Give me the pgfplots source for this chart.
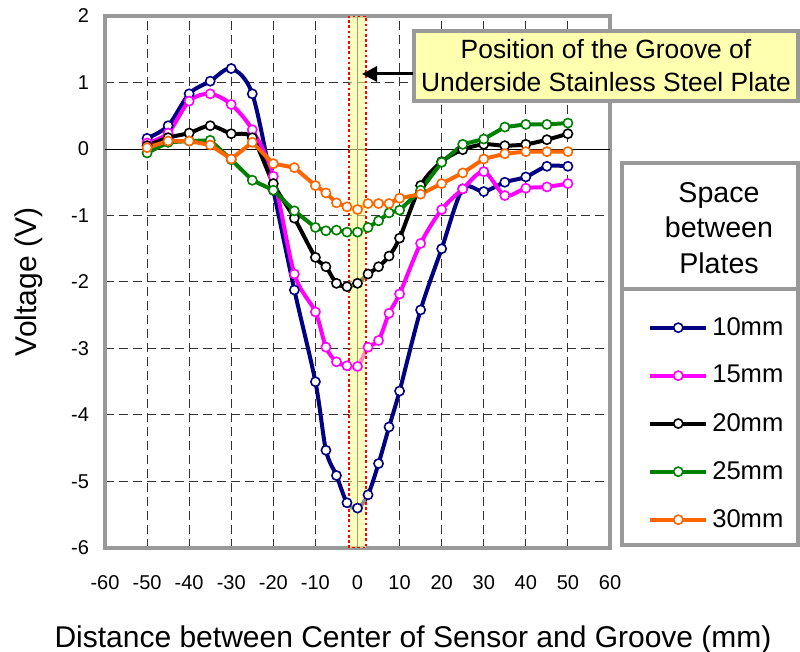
\documentclass[border=0pt]{standalone}
\usepackage{pgfplots}
\pgfplotsset{compat=1.18}
\usepackage{pgfplotstable}
\usepackage{fontspec}
\setmainfont{Liberation Sans}
\usetikzlibrary{arrows.meta}
\definecolor{c10}{RGB}{0,0,128}
\definecolor{c15}{RGB}{255,0,255}
\definecolor{c20}{RGB}{0,0,0}
\definecolor{c25}{RGB}{0,128,0}
\definecolor{c30}{RGB}{255,102,0}
\definecolor{framegray}{RGB}{153,153,153}
\definecolor{bandyellow}{RGB}{255,255,140}
\definecolor{noteyellow}{RGB}{255,255,176}
\definecolor{olivec}{RGB}{160,160,100}

\pgfplotstableread{
x     y10   y15   y20   y25   y30
-50   0.16  0.09  0.05  -0.06 0.02
-45   0.35  0.24  0.17  0.10  0.12
-40   0.83  0.72  0.24  0.12  0.12
-35   1.02  0.83  0.35  0.13  0.06
-30   1.21  0.67  0.23  -0.16 -0.15
-25   0.83  0.29  0.17  -0.47 0.10
-20   -0.62 -0.41 -0.52 -0.62 -0.22
-15   -2.12 -1.88 -1.04 -0.93 -0.28
-10   -3.50 -2.45 -1.63 -1.18 -0.55
-7.5  -4.53 -2.98 -1.77 -1.23 -0.66
-5    -4.91 -3.20 -2.02 -1.22 -0.81
-2.5  -5.32 -3.26 -2.07 -1.25 -0.87
0     -5.40 -3.27 -2.02 -1.25 -0.91
2.5   -5.20 -2.98 -1.88 -1.18 -0.82
5     -4.73 -2.88 -1.77 -1.08 -0.82
7.5   -4.18 -2.47 -1.61 -0.96 -0.82
10    -3.64 -2.18 -1.34 -0.92 -0.74
15    -2.42 -1.42 -0.55 -0.62 -0.68
20    -1.50 -0.91 -0.19 -0.20 -0.52
25    -0.60 -0.60 -0.01 0.07  -0.36
30    -0.64 -0.34 0.07  0.15  -0.15
35    -0.50 -0.70 0.05  0.33  -0.07
40    -0.42 -0.59 0.07  0.37  -0.04
45    -0.26 -0.57 0.14  0.37  -0.04
50    -0.26 -0.52 0.23  0.39  -0.04
}\data

\begin{document}
\begin{tikzpicture}
\useasboundingbox (0,0) rectangle (400pt,326pt);
\begin{axis}[
  at={(52.5pt,52pt)}, anchor=south west,
  scale only axis, width=252.5pt, height=266pt,
  xmin=-60, xmax=60, ymin=-6, ymax=2,
  xtick={-60,-50,...,60}, ytick={-6,-5,...,2},
  grid=major,
  major grid style={black!80, line width=0.5pt, dash pattern=on 4.5pt off 2.5pt},
  major tick length=0pt,
  axis line style={framegray, line width=2.4pt},
  tick label style={font=\fontsize{10}{12}\selectfont},
  /pgf/number format/assume math mode=true,
  xticklabel style={yshift=-10pt},
  yticklabel style={xshift=-4.5pt},
  xlabel={Distance between Center of Sensor and Groove (mm)},
  ylabel={Voltage (V)},
  label style={font=\fontsize{15}{18}\selectfont},
  xlabel style={at={(rel axis cs:0.61,-0.172)}, anchor=center},
  ylabel style={at={(rel axis cs:-0.151,0.5)}, anchor=center},
  legend style={at={(rel axis cs:1.075,0.442)}, anchor=north west, draw=none, fill=none,
    font=\fontsize{12.8}{14}\selectfont, row sep=9.6pt, inner sep=0pt},
  legend cell align=left,
  legend image code/.code={\draw[#1, mark repeat=2, mark phase=2] plot coordinates {(0pt,0pt) (14pt,0pt) (28pt,0pt)};},
  every axis plot/.append style={line width=2pt, mark=*, mark size=2.3pt,
    mark options={fill=white, solid, line width=0.8pt}},
]
\draw[black, line width=0.5pt] (axis cs:-60,0) -- (axis cs:60,0);
\addplot[c10, smooth] table[x=x, y=y10] {\data};
\addlegendentry{10mm}
\addplot[c15, smooth] table[x=x, y=y15] {\data};
\addlegendentry{15mm}
\addplot[c20, smooth] table[x=x, y=y20] {\data};
\addlegendentry{20mm}
\addplot[c25] table[x=x, y=y25] {\data};
\addlegendentry{25mm}
\addplot[c30] table[x=x, y=y30] {\data};
\addlegendentry{30mm}
\fill[bandyellow, fill opacity=0.55] (axis cs:-2,-6) rectangle (axis cs:2,2);
\draw[olivec, line width=0.9pt] (axis cs:0,-6) -- (axis cs:0,2);
\draw[red, line width=1.3pt, dash pattern=on 1.3pt off 1.3pt] (axis cs:-2,-6) rectangle (axis cs:2,2);
\end{axis}
\begin{scope}[x=0.5pt, y=-0.5pt, yshift=326pt]
\draw[framegray, line width=1.8pt, fill=noteyellow] (414,31) rectangle (798,101);
\node[align=center, font=\fontsize{13.2}{16.5}\selectfont] at (606,66) {Position of the Groove of\\Underside Stainless Steel Plate};
\draw[-{Triangle[length=7.5pt,width=7.5pt]}, line width=1.5pt] (413,74) -- (362,74);
\draw[framegray, line width=2pt] (622,163) rectangle (798,545);
\draw[framegray, line width=2pt] (622,289) -- (798,289);
\node[align=center, font=\fontsize{14.3}{17.75}\selectfont] at (719,228) {Space\\between\\Plates};
\end{scope}
\end{tikzpicture}
\end{document}
